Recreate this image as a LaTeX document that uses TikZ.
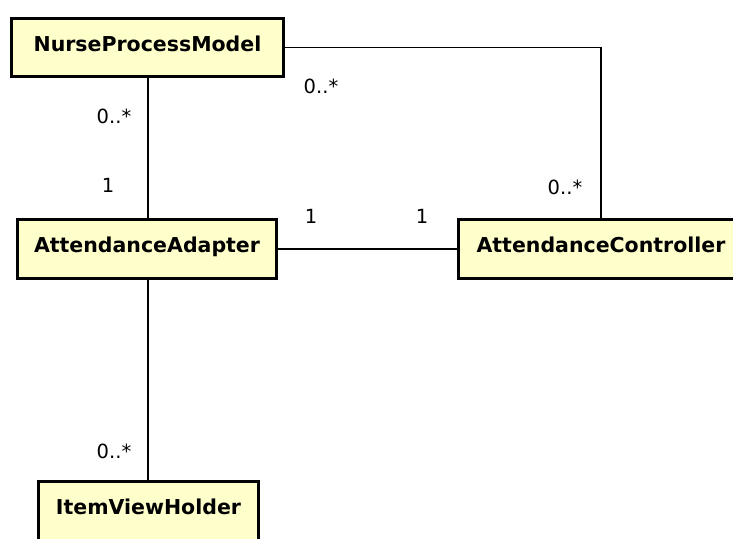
\documentclass[tikz,border=0pt]{standalone}
\usepackage{fontspec}
\setmainfont{DejaVu Sans}
\definecolor{classfill}{RGB}{255,255,204}
\begin{document}
\begin{tikzpicture}[x=1pt,y=-1pt,
  classbox/.style={draw=black, line width=3pt, fill=classfill, inner sep=0pt,
    font=\fontsize{20.5}{24}\selectfont\bfseries, text height=15pt, text depth=8pt},
  mult/.style={anchor=base, inner sep=0pt, font=\fontsize{19.5}{23}\selectfont},
  conn/.style={draw=black, line width=1.4pt}]
\useasboundingbox (0,0) rectangle (733,538);
\fill[white] (0,0) rectangle (733,538);
% connectors
\coordinate (npmbot) at (148,78);
\coordinate (aatop) at (148,218);
\coordinate (aabot) at (148,280);
\coordinate (ivhtop) at (148,481);
\node[classbox, minimum width=272pt, minimum height=58pt] (npm) at (147.5,47.5) {NurseProcessModel};
\node[classbox, minimum width=259pt, minimum height=59pt] (aa) at (147,249) {AttendanceAdapter};
\node[classbox, minimum width=285pt, minimum height=59pt] (ac) at (601,249) {AttendanceController};
\node[classbox, minimum width=220pt, minimum height=59pt] (ivh) at (148.5,511) {ItemViewHolder};
\begin{scope}[on background layer/.style={}]
\end{scope}
\draw[conn] (npm.east) -| (ac.north);
\draw[conn] (npm.south -| npmbot) -- (aa.north -| aatop);
\draw[conn] (aa.east) -- (ac.west);
\draw[conn] (aa.south -| aabot) -- (ivh.north -| ivhtop);
% multiplicities
\node[mult] (m1) at (114,123) {0..*};
\node[mult] (m2) at (108,192) {1};
\node[mult] (m3) at (321,93) {0..*};
\node[mult] (m4) at (311,223) {1};
\node[mult] (m5) at (422,223) {1};
\node[mult] (m6) at (565,194) {0..*};
\node[mult] (m7) at (114,458) {0..*};
\end{tikzpicture}
\end{document}
